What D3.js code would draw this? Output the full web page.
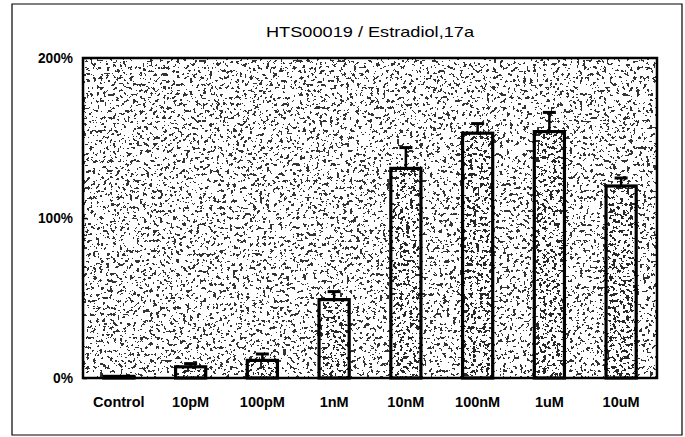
<!DOCTYPE html>
<html><head><meta charset="utf-8">
<script src="https://cdn.jsdelivr.net/npm/d3@7"></script>
<style>
html,body{margin:0;padding:0;background:#fff;}
svg{display:block;}
text{font-family:"Liberation Sans",Arial,sans-serif;fill:#000;}
</style></head>
<body>
<script>
const title = "HTS00019 / Estradiol,17a";
const categories = ["Control","10pM","100pM","1nM","10nM","100nM","1uM","10uM"];
const values = [1, 7, 11, 49, 131, 153, 154, 120];
const errors = [0, 2, 4, 5, 13, 6, 12, 5];
const yTicks = [0, 100, 200];

const W = 685, H = 437;
const m = {left: 83, right: 28, top: 58, bottom: 59};
const svg = d3.select("body").append("svg").attr("width", W).attr("height", H);

const defs = svg.append("defs");
function noiseFilter(id, seed, freq, slope, off, a) {
  const f = defs.append("filter").attr("id", id)
    .attr("x", 0).attr("y", 0).attr("width", 1).attr("height", 1);
  f.append("feTurbulence").attr("type", "fractalNoise").attr("baseFrequency", freq)
    .attr("numOctaves", 3).attr("seed", seed).attr("result", "n");
  f.append("feColorMatrix").attr("in", "n").attr("type", "matrix")
    .attr("values", `0 0 0 0 0  0 0 0 0 0  0 0 0 0 0  ${slope} 0 0 0 ${off}`).attr("result", "a");
  const ct = f.append("feComponentTransfer").attr("in", "a").attr("result", "d");
  ct.append("feFuncA").attr("type", "discrete").attr("tableValues", `0 ${a}`);
  f.append("feComposite").attr("in", "d").attr("in2", "SourceGraphic").attr("operator", "in");
}
noiseFilter("noiseBg", 5, 0.3, 4, -1.97, 0.8);
noiseFilter("noiseBar", 11, 0.3, 4, -1.8, 0.85);

// outer frame
svg.append("path").attr("d", `M12,4 H682 V435 H12 Z`).attr("fill", "none")
  .attr("stroke", "#000").attr("stroke-width", 1.2);

const x = d3.scaleBand().domain(categories).range([m.left, W - m.right]).paddingInner(0.58).paddingOuter(0.29);
const y = d3.scaleLinear().domain([0, 200]).range([H - m.bottom, m.top]);

const pw = W - m.right - m.left, ph = H - m.bottom - m.top;
svg.append("rect").attr("x", m.left).attr("y", m.top).attr("width", pw).attr("height", ph).attr("fill", "#fff");
svg.append("rect").attr("x", m.left).attr("y", m.top).attr("width", pw).attr("height", ph)
  .attr("fill", "#000").attr("filter", "url(#noiseBg)");

// title
svg.append("text").attr("x", 370).attr("y", 37).attr("text-anchor", "middle")
  .attr("font-size", 15).attr("textLength", 208).attr("lengthAdjust", "spacingAndGlyphs").text(title);

// bars
const g = svg.append("g");
const data = categories.map((c, i) => ({c, v: values[i], e: errors[i]}));
g.selectAll("rect.bg").data(data).enter().append("rect")
  .attr("x", d => x(d.c)).attr("width", x.bandwidth())
  .attr("y", d => y(d.v)).attr("height", d => y(0) - y(d.v))
  .attr("fill", "#fff");
g.selectAll("rect.tex").data(data).enter().append("rect")
  .attr("x", d => x(d.c)).attr("width", x.bandwidth())
  .attr("y", d => y(d.v)).attr("height", d => y(0) - y(d.v))
  .attr("fill", "#000").attr("filter", "url(#noiseBar)");
g.selectAll("rect.out").data(data).enter().append("rect")
  .attr("x", d => x(d.c)).attr("width", x.bandwidth())
  .attr("y", d => y(d.v)).attr("height", d => y(0) - y(d.v))
  .attr("fill", "none").attr("stroke", "#000").attr("stroke-width", 3.2);

// error bars
const eb = g.selectAll("g.err").data(data.filter(d => d.e > 0)).enter().append("g");
eb.append("line").attr("x1", d => x(d.c) + x.bandwidth()/2).attr("x2", d => x(d.c) + x.bandwidth()/2)
  .attr("y1", d => y(d.v)).attr("y2", d => y(d.v + d.e)).attr("stroke", "#000").attr("stroke-width", 2.5);
eb.append("line").attr("x1", d => x(d.c) + x.bandwidth()/2 - 6.5).attr("x2", d => x(d.c) + x.bandwidth()/2 + 6.5)
  .attr("y1", d => y(d.v + d.e)).attr("y2", d => y(d.v + d.e)).attr("stroke", "#000").attr("stroke-width", 3);

// plot frame
svg.append("rect").attr("x", m.left).attr("y", m.top).attr("width", pw).attr("height", ph)
  .attr("fill", "none").attr("stroke", "#000").attr("stroke-width", 2.5);

// y axis
const yAxis = d3.axisLeft(y).tickValues(yTicks).tickSize(-4).tickFormat(d => d + "%");
const ya = svg.append("g").attr("transform", `translate(${m.left},0)`).call(yAxis);
ya.select(".domain").remove();
ya.selectAll("line").attr("stroke", "#000").attr("stroke-width", 1.5);
ya.selectAll("text").attr("x", -10).attr("font-size", 15).attr("font-weight", "bold")
  .attr("textLength", d => d === 0 ? 20 : 35).attr("lengthAdjust", "spacingAndGlyphs");

// x axis
const xAxis = d3.axisBottom(x).tickSize(0).tickPadding(19);
const xa = svg.append("g").attr("transform", `translate(0,${H - m.bottom})`).call(xAxis);
xa.select(".domain").remove();
xa.selectAll("text").attr("font-size", 14.5).attr("font-weight", "bold");
</script>
</body></html>
